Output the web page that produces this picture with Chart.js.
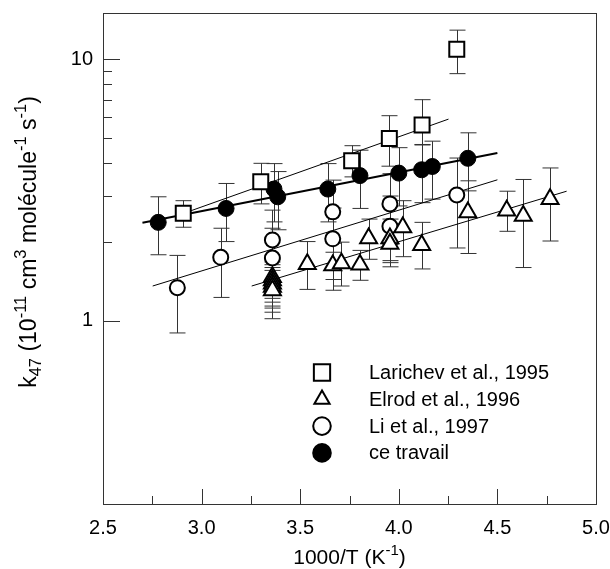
<!DOCTYPE html>
<html>
<head>
<meta charset="utf-8">
<script src="https://cdn.jsdelivr.net/npm/chart.js@4.4.1/dist/chart.umd.min.js"></script>
<style>
  html, body { margin: 0; padding: 0; background: #fff; }
  canvas { display: block; }
</style>
</head>
<body>
<canvas id="chart" width="610" height="569"></canvas>
<script>
// Larichev et al., 1995
const larX  = [2.907, 3.30, 3.761, 3.952, 4.118, 4.294];
const larY  = [2.58, 3.40, 4.09, 4.98, 5.60, 10.9];
const larHi = [2.88, 4.00, 4.67, 6.08, 7.00, 12.9];
const larLo = [2.28, 2.80, 3.55, 3.90, 4.70, 8.80];

// Elrod et al., 1996
const elrX  = [3.359, 3.359, 3.359, 3.359, 3.359, 3.536, 3.665, 3.709, 3.803, 3.847, 3.955, 3.955, 4.02, 4.116, 4.35, 4.547, 4.631, 4.767];
const elrY  = [1.47, 1.43, 1.39, 1.35, 1.31, 1.65, 1.63, 1.66, 1.64, 2.07, 2.07, 1.97, 2.28, 1.95, 2.60, 2.64, 2.52, 2.92];
const elrHi = [1.72, 1.68, 1.64, 1.60, 1.56, 2.01, 1.98, 2.00, 1.86, 2.45, 2.45, 2.35, 2.88, 2.38, 3.43, 3.13, 3.47, 3.84];
const elrLo = [1.18, 1.14, 1.12, 1.08, 1.02, 1.32, 1.31, 1.36, 1.43, 1.72, 1.70, 1.67, 1.76, 1.58, 1.81, 2.20, 1.60, 2.02];

// Li et al., 1997
const liX  = [2.877, 3.097, 3.359, 3.359, 3.665, 3.665, 3.955, 3.955, 4.294];
const liY  = [1.34, 1.75, 2.04, 1.74, 2.61, 2.06, 2.80, 2.30, 3.03];
const liHi = [1.78, 2.26, 2.65, 2.26, 3.45, 2.70, 3.65, 3.00, 4.19];
const liLo = [0.90, 1.23, 1.43, 1.22, 1.83, 1.44, 1.96, 1.61, 1.90];

// ce travail
const ctX  = [2.78, 3.124, 3.367, 3.386, 3.64, 3.803, 4.0, 4.116, 4.17, 4.35];
const ctY  = [2.38, 2.69, 3.19, 2.98, 3.19, 3.59, 3.67, 3.78, 3.89, 4.18];
const ctHi = [2.98, 3.35, 3.99, 3.72, 3.99, 4.49, 4.59, 4.72, 4.86, 5.23];
const ctLo = [1.79, 2.01, 2.39, 2.23, 2.39, 2.69, 2.75, 2.83, 2.92, 3.14];

// fitted lines (end points)
const larFitX = [2.873, 4.252], larFitY = [2.52, 5.90];
const elrFitX = [3.254, 4.851], elrFitY = [1.36, 3.13];
const liFitX  = [2.752, 4.50],  liFitY  = [1.36, 3.46];
const ctFitX  = [2.70, 4.50],   ctFitY  = [2.37, 4.38];

const legendLabels = ['Larichev et al., 1995', 'Elrod et al., 1996', 'Li et al., 1997', 'ce travail'];

// axis ticks
const xMajor = [2.5, 3.0, 3.5, 4.0, 4.5, 5.0];
const xMinor = [2.75, 3.25, 3.75, 4.25, 4.75];
const yMajor = [1, 10];
const yMinor = [2, 3, 4, 5, 6, 7, 8, 9];

const FONT = '"Liberation Sans", Arial, Helvetica, sans-serif';

function pts(xs, ys) {
    return xs.map((x, i) => ({ x: x, y: ys[i] }));
}

function fitLine(xs, ys, width) {
    return {
        type: 'line', data: pts(xs, ys), showLine: true, borderColor: '#000',
        borderWidth: width, pointRadius: 0, fill: false, tension: 0
    };
}

function drawRich(ctx, parts, x, y, big, small) {
    // parts: [text, 'n' | 'sup' | 'sub'], centred on x, baseline y
    let total = 0;
    parts.forEach(p => {
        ctx.font = (p[1] === 'n' ? big : small) + 'px ' + FONT;
        total += ctx.measureText(p[0]).width;
    });
    let cx = x - total / 2;
    parts.forEach(p => {
        ctx.font = (p[1] === 'n' ? big : small) + 'px ' + FONT;
        let dy = 0;
        if (p[1] === 'sup') dy = -big * 0.42;
        if (p[1] === 'sub') dy = big * 0.22;
        ctx.fillText(p[0], cx, y + dy);
        cx += ctx.measureText(p[0]).width;
    });
}

function noPadding(scale) {
    scale.paddingLeft = 0;
    scale.paddingRight = 0;
    scale.paddingTop = 0;
    scale.paddingBottom = 0;
}

const decorations = {
    id: 'decorations',
    beforeDatasetsDraw(chart) {
        const ctx = chart.ctx, xs = chart.scales.x, ys = chart.scales.y;
        ctx.save();
        ctx.strokeStyle = '#333';
        ctx.lineWidth = 1;
        chart.data.datasets.forEach(ds => {
            if (!ds.errLo) return;
            ds.data.forEach((p, i) => {
                const px = Math.round(xs.getPixelForValue(p.x)) + 0.5;
                const y1 = ys.getPixelForValue(ds.errHi[i]);
                const y2 = ys.getPixelForValue(ds.errLo[i]);
                ctx.beginPath();
                ctx.moveTo(px, y1); ctx.lineTo(px, y2);
                ctx.moveTo(px - 8, y1); ctx.lineTo(px + 8, y1);
                ctx.moveTo(px - 8, y2); ctx.lineTo(px + 8, y2);
                ctx.stroke();
            });
        });
        ctx.restore();
    },
    afterDraw(chart) {
        const ctx = chart.ctx, a = chart.chartArea;
        const xs = chart.scales.x, ys = chart.scales.y;
        ctx.save();

        // frame
        ctx.strokeStyle = '#333';
        ctx.lineWidth = 1;
        ctx.strokeRect(Math.round(a.left) + 0.5, Math.round(a.top) + 0.5,
            Math.round(a.right - a.left), Math.round(a.bottom - a.top));

        // inner ticks
        ctx.beginPath();
        xMajor.forEach(v => {
            const px = Math.round(xs.getPixelForValue(v)) + 0.5;
            ctx.moveTo(px, a.bottom); ctx.lineTo(px, a.bottom - 15);
        });
        xMinor.forEach(v => {
            const px = Math.round(xs.getPixelForValue(v)) + 0.5;
            ctx.moveTo(px, a.bottom); ctx.lineTo(px, a.bottom - 8);
        });
        yMajor.forEach(v => {
            const py = Math.round(ys.getPixelForValue(v)) + 0.5;
            ctx.moveTo(a.left, py); ctx.lineTo(a.left + 17, py);
        });
        yMinor.forEach(v => {
            const py = Math.round(ys.getPixelForValue(v)) + 0.5;
            ctx.moveTo(a.left, py); ctx.lineTo(a.left + 9, py);
        });
        ctx.stroke();

        // axis titles
        ctx.fillStyle = '#000';
        ctx.textBaseline = 'alphabetic';
        ctx.textAlign = 'left';
        drawRich(ctx, [['1000/T (K', 'n'], ['-1', 'sup'], [')', 'n']],
            (a.left + a.right) / 2, 564, 21, 15);

        ctx.save();
        ctx.translate(36, 242);
        ctx.rotate(-Math.PI / 2);
        drawRich(ctx, [['k', 'n'], ['47', 'sub'], [' (10', 'n'], ['-11', 'sup'], [' cm', 'n'],
            ['3', 'sup'], [' molécule', 'n'], ['-1', 'sup'], [' s', 'n'], ['-1', 'sup'], [')', 'n']],
            0, 0, 23, 16.5);
        ctx.restore();

        // legend
        const markers = chart.data.datasets.slice(0, 4);
        ctx.font = '20px ' + FONT;
        ctx.textBaseline = 'middle';
        markers.forEach((ds, i) => {
            const ly = a.top + 359.5 + i * 26.8;
            const lx = a.left + 219;
            ctx.strokeStyle = '#000';
            ctx.fillStyle = ds.pointBackgroundColor;
            ctx.lineWidth = 2;
            Chart.helpers.drawPoint(ctx, {
                pointStyle: ds.pointStyle, radius: ds.pointStyle === 'rect' ? 11.5 : 8.8,
                rotation: 0, borderWidth: 2
            }, lx, ly);
            ctx.fillStyle = '#000';
            ctx.fillText(legendLabels[i], a.left + 266, ly + 1);
        });
        ctx.restore();
    }
};

new Chart(document.getElementById('chart'), {
    type: 'scatter',
    data: {
        datasets: [
            {
                label: legendLabels[0], data: pts(larX, larY), errHi: larHi, errLo: larLo,
                pointStyle: 'rect', pointRadius: 10.6, pointBorderWidth: 2,
                pointBorderColor: '#000', pointBackgroundColor: '#fff'
            },
            {
                label: legendLabels[1], data: pts(elrX, elrY), errHi: elrHi, errLo: elrLo,
                pointStyle: 'triangle', pointRadius: 9.8, pointBorderWidth: 2,
                pointBorderColor: '#000', pointBackgroundColor: '#fff'
            },
            {
                label: legendLabels[2], data: pts(liX, liY), errHi: liHi, errLo: liLo,
                pointStyle: 'circle', pointRadius: 7.5, pointBorderWidth: 2,
                pointBorderColor: '#000', pointBackgroundColor: '#fff'
            },
            {
                label: legendLabels[3], data: pts(ctX, ctY), errHi: ctHi, errLo: ctLo,
                pointStyle: 'circle', pointRadius: 8, pointBorderWidth: 1,
                pointBorderColor: '#000', pointBackgroundColor: '#000'
            },
            fitLine(larFitX, larFitY, 1),
            fitLine(elrFitX, elrFitY, 1),
            fitLine(liFitX, liFitY, 1),
            fitLine(ctFitX, ctFitY, 2)
        ]
    },
    options: {
        responsive: false,
        animation: false,
        layout: { padding: { top: 13, right: 14, left: 0, bottom: 0 } },
        plugins: { legend: { display: false }, tooltip: { enabled: false } },
        scales: {
            x: {
                type: 'linear', min: 2.5, max: 5.0,
                grid: { display: false, drawTicks: false }, border: { display: false },
                afterBuildTicks(scale) { scale.ticks = xMajor.map(v => ({ value: v })); },
                afterFit(scale) { scale.height = 65; noPadding(scale); },
                ticks: {
                    padding: 12, maxRotation: 0, autoSkip: false, color: '#000',
                    font: { family: FONT, size: 20 },
                    callback: v => Number(v).toFixed(1)
                }
            },
            y: {
                type: 'logarithmic', min: 0.2, max: 15,
                grid: { display: false, drawTicks: false }, border: { display: false },
                afterBuildTicks(scale) { scale.ticks = yMajor.map(v => ({ value: v })); },
                afterFit(scale) { scale.width = 103; noPadding(scale); },
                ticks: {
                    padding: 10, autoSkip: false, color: '#000',
                    font: { family: FONT, size: 20 },
                    callback: v => String(v)
                }
            }
        }
    },
    plugins: [decorations]
});
</script>
</body>
</html>
